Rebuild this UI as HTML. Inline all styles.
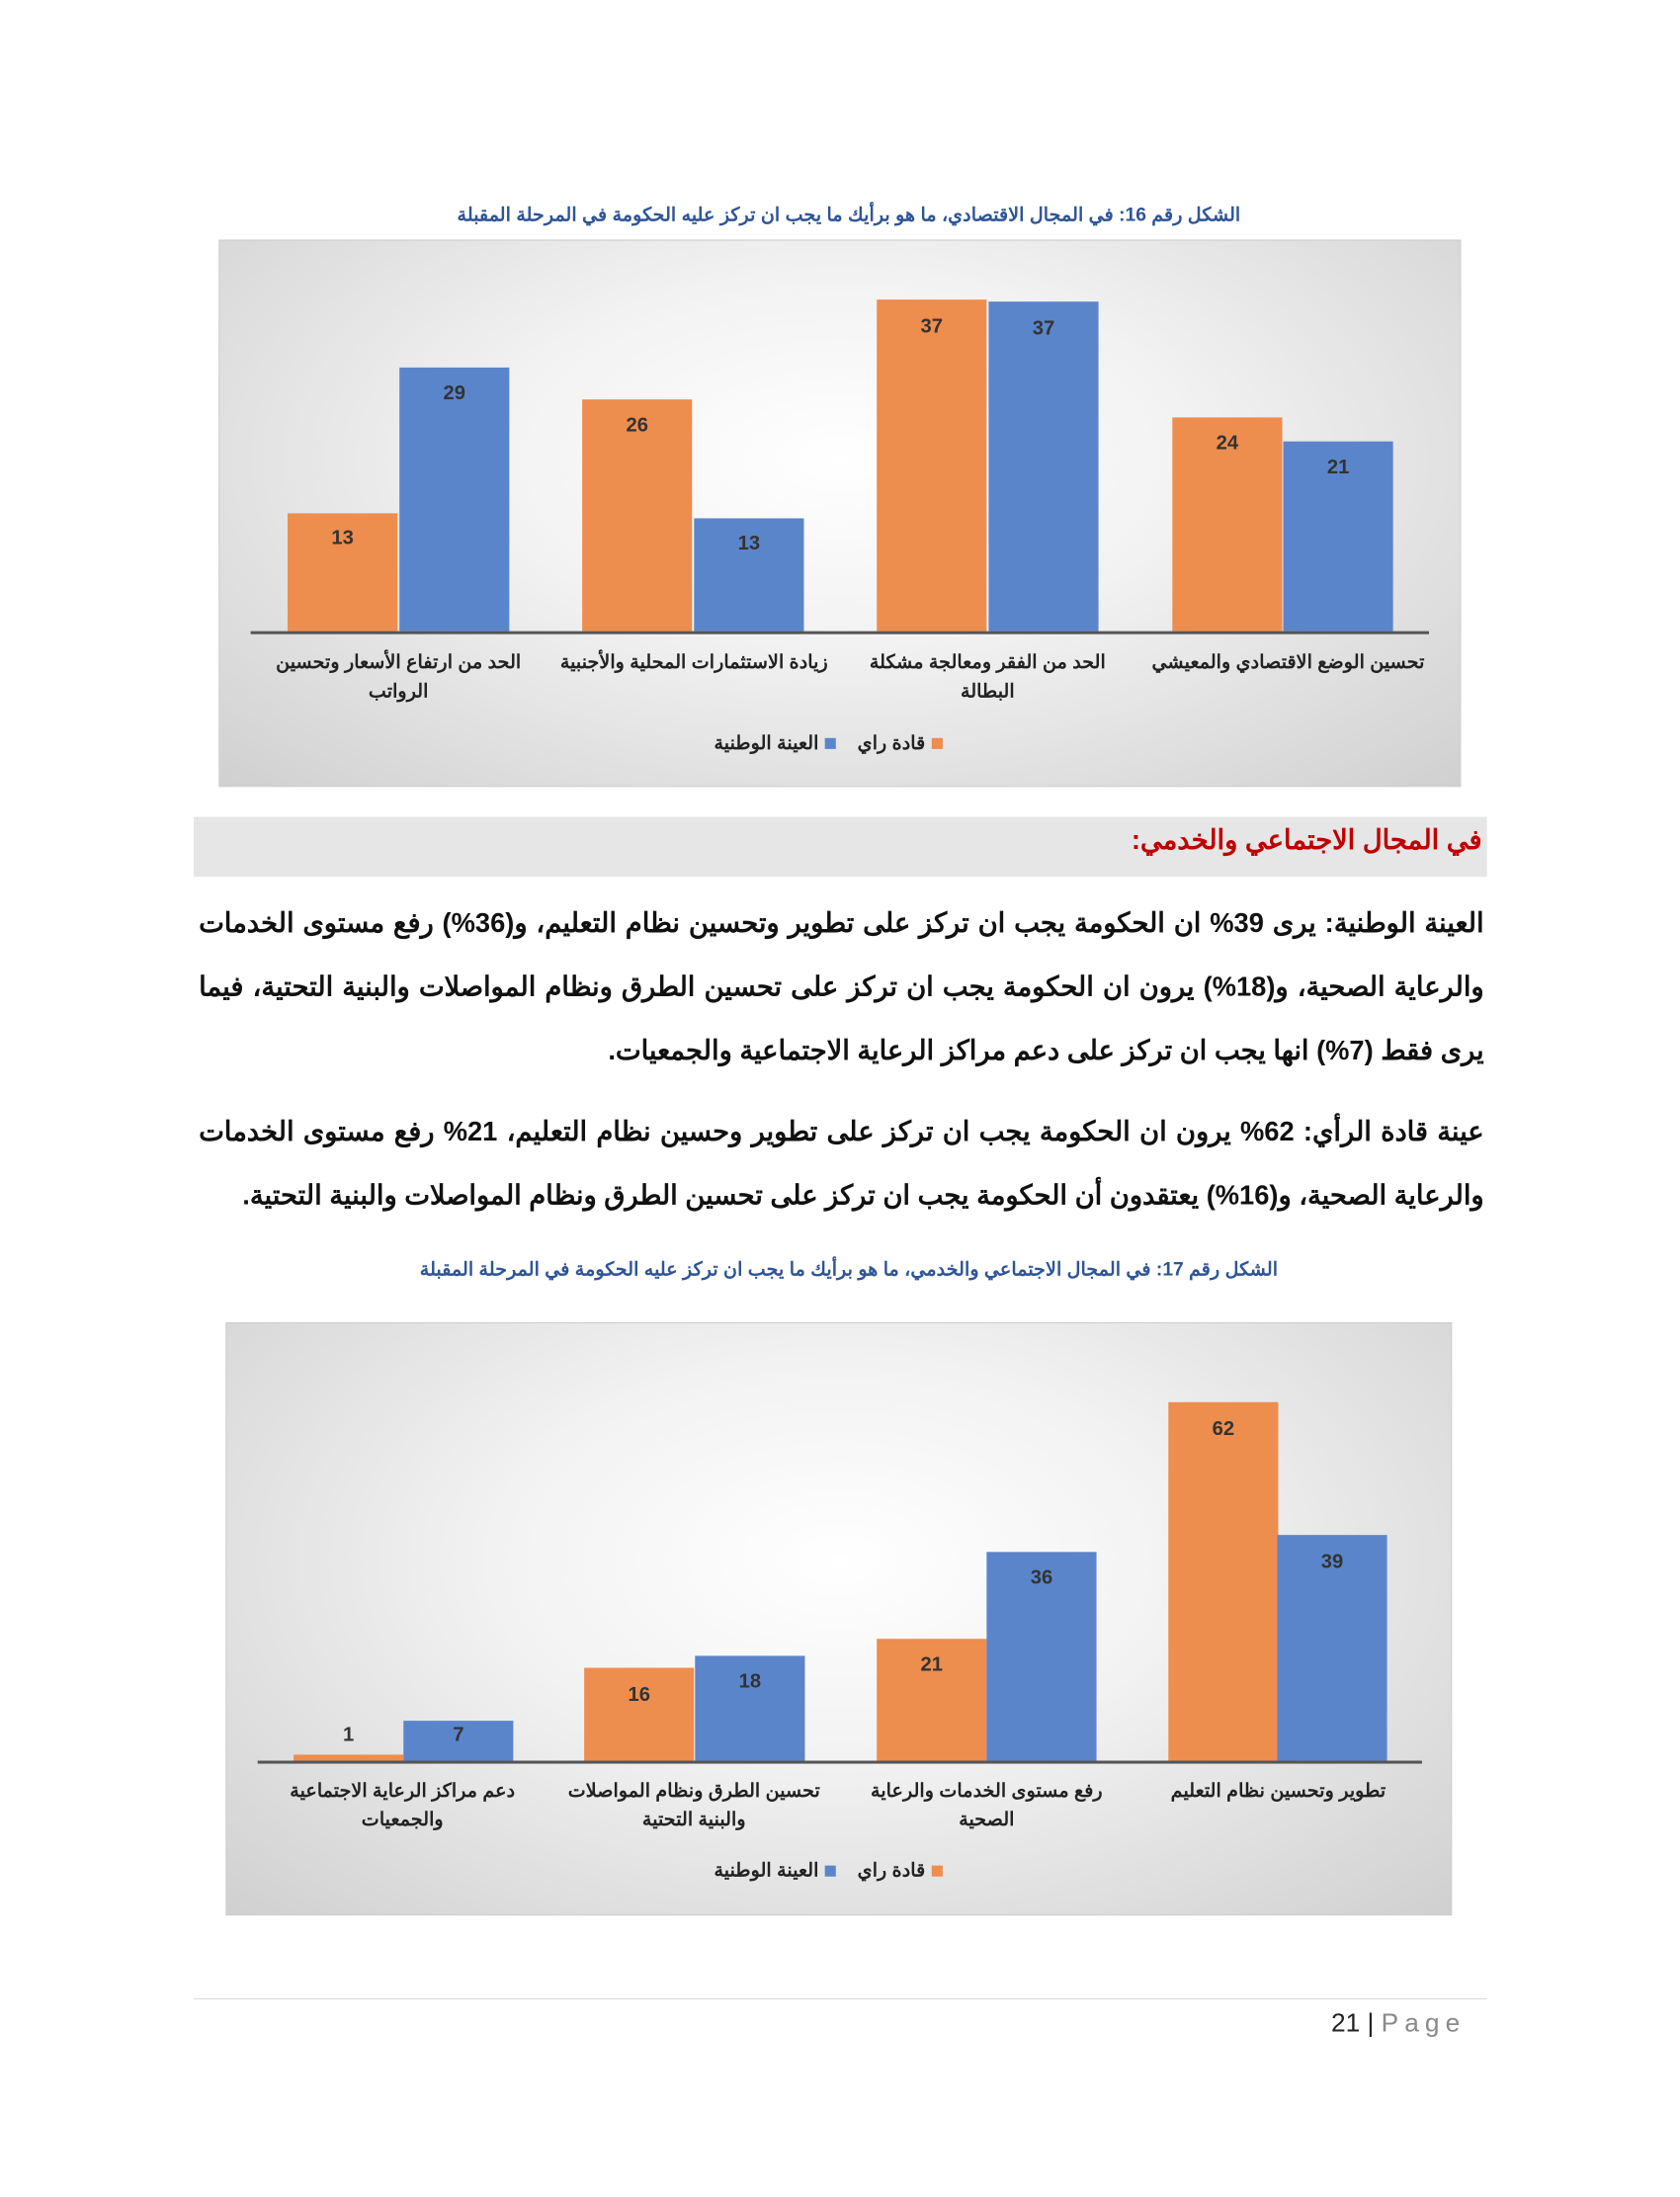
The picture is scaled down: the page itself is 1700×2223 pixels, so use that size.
<!DOCTYPE html>
<html><head><meta charset="utf-8"><style>
*{margin:0;padding:0;box-sizing:border-box}
body{width:1700px;height:2200px;background:#fff;position:relative;font-family:"Liberation Sans","Noto Sans CJK SC",sans-serif;overflow:hidden}
#w{position:absolute;left:0;top:0;width:1700px;height:2200px;transform:scale(1.0105);transform-origin:0 0}
.abs{position:absolute}
.title{color:#2f5597;font-size:19px;font-weight:bold;direction:rtl;text-align:center;white-space:nowrap}
.chart{position:absolute;background:radial-gradient(ellipse at 50% 40%,#ffffff 0%,#f2f2f2 40%,#d0d0d0 100%);border:1px solid #c8c8c8}
.bar{position:absolute;width:110px}
.o{background:#ED8D4E}
.b{background:#5B85CB}
.v{position:absolute;width:110px;text-align:center;font-size:20px;font-weight:bold;color:#333}
.axis{position:absolute;height:3px;background:#555}
.lab{position:absolute;width:290px;text-align:center;direction:rtl;font-size:19px;font-weight:bold;color:#222;line-height:29px}
.leg{position:absolute;direction:rtl;font-size:19px;font-weight:bold;color:#222;white-space:nowrap}
.sq{display:inline-block;width:11px;height:11px;margin:0 6px}
.para{position:absolute;left:199px;width:1287px;direction:rtl;text-align:justify;font-size:27px;font-weight:bold;color:#111;line-height:64px}
</style></head><body><div id="w">

<div class="abs title" style="left:0;width:1700px;top:204px;">الشكل رقم  16: في المجال الاقتصادي، ما هو برأيك ما يجب ان تركز عليه الحكومة في المرحلة المقبلة</div>

<div class="chart" style="left:219px;top:240px;width:1244px;height:548px"></div>
<div class="bar o" style="left:288px;top:514px;height:118px"></div><div class="v" style="left:288px;top:528px">13</div>
<div class="bar b" style="left:400px;top:368px;height:264px"></div><div class="v" style="left:400px;top:383px">29</div>
<div class="bar o" style="left:583px;top:400px;height:232px"></div><div class="v" style="left:583px;top:415px">26</div>
<div class="bar b" style="left:695px;top:519px;height:113px"></div><div class="v" style="left:695px;top:533px">13</div>
<div class="bar o" style="left:878px;top:300px;height:332px"></div><div class="v" style="left:878px;top:316px">37</div>
<div class="bar b" style="left:990px;top:302px;height:330px"></div><div class="v" style="left:990px;top:318px">37</div>
<div class="bar o" style="left:1174px;top:418px;height:214px"></div><div class="v" style="left:1174px;top:433px">24</div>
<div class="bar b" style="left:1285px;top:442px;height:190px"></div><div class="v" style="left:1285px;top:457px">21</div>
<div class="axis" style="left:251px;top:632px;width:1180px"></div>
<div class="lab" style="left:254px;top:649px">الحد من ارتفاع الأسعار وتحسين الرواتب</div>
<div class="lab" style="left:550px;top:649px">زيادة الاستثمارات المحلية والأجنبية</div>
<div class="lab" style="left:844px;top:649px">الحد من الفقر ومعالجة مشكلة البطالة</div>
<div class="lab" style="left:1140px;top:649px;width:300px">تحسين الوضع الاقتصادي والمعيشي</div>
<div class="leg" style="left:715px;top:733px"><span class="sq" style="background:#ED8D4E"></span>قادة راي &nbsp; <span class="sq" style="background:#5B85CB"></span>العينة الوطنية</div>

<div class="abs" style="left:194px;top:818px;width:1295px;height:60px;background:#e6e6e6"></div>
<div class="abs" style="left:194px;top:826px;width:1290px;direction:rtl;font-size:27px;font-weight:bold;color:#c00000">في المجال الاجتماعي والخدمي:</div>

<div class="para" style="top:892px;text-align-last:right">العينة الوطنية: يرى 39% ان الحكومة يجب ان تركز على تطوير وتحسين نظام التعليم، و(36%) رفع مستوى الخدمات والرعاية الصحية، و(18%) يرون ان الحكومة يجب ان تركز على تحسين الطرق ونظام المواصلات والبنية التحتية، فيما يرى فقط (7%) انها يجب ان تركز على دعم مراكز الرعاية الاجتماعية والجمعيات.</div>
<div class="para" style="top:1101px;text-align-last:right">عينة قادة الرأي: 62% يرون ان الحكومة يجب ان تركز على تطوير وحسين نظام التعليم، 21% رفع مستوى الخدمات والرعاية الصحية، و(16%) يعتقدون أن الحكومة يجب ان تركز على تحسين الطرق ونظام المواصلات والبنية التحتية.</div>

<div class="abs title" style="left:0;width:1700px;top:1260px;">الشكل رقم  17: في المجال الاجتماعي والخدمي، ما هو برأيك ما يجب ان تركز عليه الحكومة في المرحلة المقبلة</div>

<div class="chart" style="left:226px;top:1324px;width:1228px;height:594px"></div>
<div class="bar o" style="left:294px;top:1757px;height:6px"></div><div class="v" style="left:294px;top:1726px">1</div>
<div class="bar b" style="left:404px;top:1723px;height:40px"></div><div class="v" style="left:404px;top:1726px">7</div>
<div class="bar o" style="left:585px;top:1670px;height:93px"></div><div class="v" style="left:585px;top:1686px">16</div>
<div class="bar b" style="left:696px;top:1658px;height:105px"></div><div class="v" style="left:696px;top:1673px">18</div>
<div class="bar o" style="left:878px;top:1641px;height:122px"></div><div class="v" style="left:878px;top:1656px">21</div>
<div class="bar b" style="left:988px;top:1554px;height:209px"></div><div class="v" style="left:988px;top:1569px">36</div>
<div class="bar o" style="left:1170px;top:1404px;height:359px"></div><div class="v" style="left:1170px;top:1420px">62</div>
<div class="bar b" style="left:1279px;top:1537px;height:226px"></div><div class="v" style="left:1279px;top:1553px">39</div>
<div class="axis" style="left:258px;top:1763px;width:1166px"></div>
<div class="lab" style="left:258px;top:1779px">دعم مراكز الرعاية الاجتماعية والجمعيات</div>
<div class="lab" style="left:550px;top:1779px">تحسين الطرق ونظام المواصلات والبنية التحتية</div>
<div class="lab" style="left:843px;top:1779px">رفع مستوى الخدمات والرعاية الصحية</div>
<div class="lab" style="left:1135px;top:1779px">تطوير وتحسين نظام التعليم</div>
<div class="leg" style="left:715px;top:1862px"><span class="sq" style="background:#ED8D4E"></span>قادة راي &nbsp; <span class="sq" style="background:#5B85CB"></span>العينة الوطنية</div>

<div class="abs" style="left:194px;top:2001px;width:1295px;height:1px;background:#d9d9d9"></div>
<div class="abs" style="left:1333px;top:2010px;font-size:26px;color:#222;white-space:nowrap">21 | <span style="color:#8a8a8a;letter-spacing:6px">Page</span></div>
</div></body></html>
